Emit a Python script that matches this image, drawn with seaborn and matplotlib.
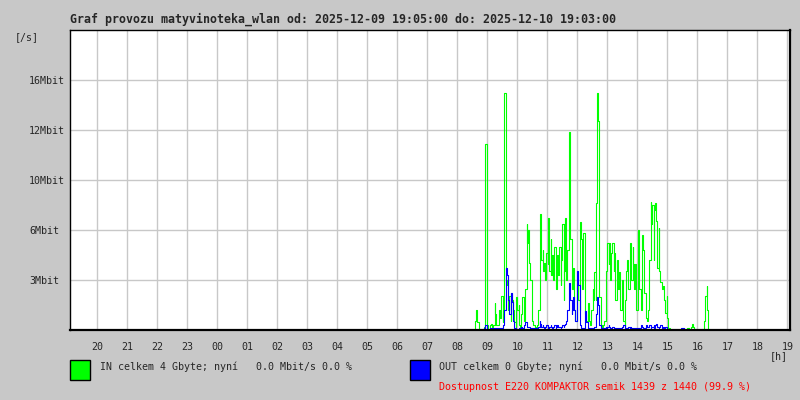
import matplotlib
matplotlib.use('Agg')
import pandas as pd
import matplotlib.pyplot as plt
import seaborn as sns

# časový rozsah grafu
period_start = '2025-12-09 19:05'
period_end = '2025-12-10 19:05'
# první vzorek dat a krok (2 min)
sample_start = '2025-12-10 08:33'
sample_step = '2min'

# IN provoz [Mbit/s]
in_mbit = [
    0, 0, 0.6, 1.3, 0.5, 0, 0, 0, 0, 0,
    0, 0.2, 11.9, 11.5, 0.3, 0, 0, 0.3, 0.4, 0.2,
    0.3, 1.7, 1.0, 0.3, 0.3, 0.3, 1.3, 0.8, 2.2, 0.5,
    1.3, 15.2, 14.7, 2.9, 3.2, 1.3, 2.2, 0.6, 2.4, 1.9,
    1.3, 0.5, 0.2, 2.1, 1.3, 1.6, 0.3, 0.2, 1.0, 2.1,
    1.3, 0.6, 2.6, 6.8, 5.6, 6.4, 4.3, 3.2, 1.3, 0.6,
    0.3, 0.2, 0.1, 0.2, 0.3, 1.3, 3.2, 7.4, 4.5, 5.1,
    3.8, 4.3, 3.2, 4.9, 4.2, 7.2, 3.8, 5.8, 3.5, 4.8,
    3.2, 5.3, 4.2, 2.6, 4.8, 3.5, 5.3, 2.9, 4.5, 6.8,
    1.9, 3.8, 7.2, 3.2, 5.1, 12.2, 12.7, 5.8, 4.0, 2.6,
    4.0, 1.3, 0.6, 1.6, 3.0, 1.9, 1.3, 6.9, 5.8, 2.6,
    6.2, 2.6, 1.0, 0.6, 1.6, 1.7, 0.6, 0.3, 1.3, 2.6,
    1.9, 3.7, 1.9, 8.1, 15.2, 13.4, 2.1, 1.3, 0.3, 0.2,
    0.3, 0.6, 1.3, 3.8, 5.6, 4.2, 5.6, 3.2, 4.9, 5.6,
    3.8, 4.9, 1.9, 3.7, 4.5, 2.6, 3.7, 1.3, 2.4, 3.2,
    0.6, 0.2, 1.9, 3.8, 4.5, 2.6, 3.8, 5.6, 3.2, 5.3,
    4.2, 2.6, 4.2, 1.3, 3.2, 6.4, 2.6, 2.1, 1.3, 6.1,
    5.1, 2.4, 1.3, 0.8, 0.6, 1.3, 4.5, 8.2, 6.8, 8.0,
    4.5, 7.7, 8.1, 7.0, 4.0, 6.5, 3.8, 3.1, 3.0, 2.6,
    2.8, 1.9, 1.1, 2.2, 0.8, 0.1, 0, 0, 0, 0,
    0, 0, 0, 0, 0, 0, 0, 0, 0, 0,
    0, 0, 0, 0, 0.1, 0.1, 0, 0, 0.2, 0.4,
    0.2, 0, 0, 0, 0, 0, 0, 0, 0, 0,
    0, 0.6, 2.2, 2.8, 1.3, 0, 0, 0, 0, 0,
]

# OUT provoz [Mbit/s]
out_mbit = [
    0, 0, 0, 0, 0, 0, 0, 0, 0, 0,
    0, 0.1, 0.3, 0.2, 0, 0, 0, 0.1, 0.1, 0.1,
    0.1, 0.1, 0.1, 0.1, 0.1, 0.1, 0.1, 0.1, 0.1, 0.2,
    0.3, 1.3, 2.6, 4.0, 3.5, 1.9, 1.0, 2.2, 2.4, 1.8,
    0.6, 0.1, 0, 0, 0, 0, 0.1, 0.1, 0.2, 0.1,
    0.2, 0.3, 0.5, 0.3, 0.2, 0.2, 0.2, 0.1, 0.1, 0.1,
    0.1, 0.1, 0.1, 0.1, 0.1, 0.2, 0.6, 0.4, 0.2, 0.3,
    0.2, 0.1, 0.2, 0.3, 0.2, 0.1, 0.2, 0.3, 0.2, 0.1,
    0.2, 0.3, 0.1, 0.2, 0.3, 0.2, 0.2, 0.1, 0.2, 0.3,
    0.2, 0.3, 0.4, 0.6, 1.3, 2.2, 3.0, 1.9, 1.0, 1.3,
    2.1, 1.3, 0.6, 2.6, 3.8, 2.9, 0.6, 0.3, 0.1, 0.1,
    0.1, 0.3, 1.2, 0.5, 0.1, 0.1, 0.1, 0.1, 0.1, 0.1,
    0.1, 0.2, 0.3, 1.0, 2.1, 1.6, 0.3, 0.1, 0.1, 0.1,
    0.1, 0.1, 0.2, 0.1, 0.2, 0.3, 0.2, 0.1, 0.1, 0.2,
    0.1, 0.1, 0.1, 0.1, 0.1, 0.1, 0.1, 0.1, 0.1, 0.2,
    0.3, 0.1, 0.1, 0.1, 0.1, 0.2, 0.1, 0.2, 0.1, 0.1,
    0.1, 0.1, 0.1, 0.1, 0.1, 0.1, 0.1, 0.2, 0.3, 0.2,
    0.1, 0.1, 0.2, 0.3, 0.2, 0.2, 0.3, 0.1, 0.2, 0.2,
    0.3, 0.1, 0.3, 0.4, 0.2, 0.1, 0.2, 0.3, 0.2, 0.1,
    0.2, 0.1, 0.2, 0.1, 0, 0, 0, 0, 0, 0,
    0, 0, 0, 0, 0, 0, 0, 0, 0.1, 0.1,
    0.1, 0, 0, 0, 0, 0, 0, 0, 0, 0,
    0, 0, 0, 0, 0, 0, 0, 0, 0, 0,
    0, 0, 0, 0, 0, 0, 0, 0, 0, 0,
]

# osa y: mřížka po 3.2 Mbit, popisky jako v originálu
y_ticks = [3.2, 6.4, 9.6, 12.8, 16.0]
y_labels = ['3Mbit', '6Mbit', '10Mbit', '12Mbit', '16Mbit']
y_max = 19.2
x_labels = ['20', '21', '22', '23', '00', '01', '02', '03', '04', '05', '06', '07',
            '08', '09', '10', '11', '12', '13', '14', '15', '16', '17', '18', '19']

title = 'Graf provozu matyvinoteka_wlan od: 2025-12-09 19:05:00 do: 2025-12-10 19:03:00'
in_text = 'IN celkem 4 Gbyte; nyní   0.0 Mbit/s 0.0 %'
out_text = 'OUT celkem 0 Gbyte; nyní   0.0 Mbit/s 0.0 %'
avail_text = 'Dostupnost E220 KOMPAKTOR semik 1439 z 1440 (99.9 %)'

bg = '#c8c8c8'
sns.set_style('white')
plt.rcParams['font.family'] = ['DejaVu Sans Mono']

times = pd.date_range(sample_start, periods=len(in_mbit), freq=sample_step)
df = pd.DataFrame({'time': times, 'in': in_mbit, 'out': out_mbit})

fig = plt.figure(figsize=(8, 4), dpi=100, facecolor=bg)
ax = fig.add_axes([70 / 800, 70 / 400, 720 / 800, 300 / 400])
ax.set_facecolor('white')

sns.lineplot(data=df, x='time', y='in', ax=ax, color='#00ff00', linewidth=0.8,
             drawstyle='steps-mid', zorder=3)
sns.lineplot(data=df, x='time', y='out', ax=ax, color='#0000ff', linewidth=0.8,
             drawstyle='steps-mid', zorder=4)

ax.set_xlim(pd.Timestamp(period_start), pd.Timestamp(period_end))
ax.set_ylim(0, y_max)
hours = pd.date_range('2025-12-09 20:00', periods=len(x_labels), freq='h')
ax.set_xticks(hours)
ax.set_xticklabels(x_labels)
ax.set_yticks(y_ticks)
ax.set_yticklabels(y_labels, ha='left')
ax.set_xlabel('')
ax.set_ylabel('')
ax.grid(True, color=bg, linewidth=1.0, zorder=0)
ax.set_axisbelow(True)
ax.tick_params(axis='x', length=0, pad=9, labelsize=7.2)
ax.tick_params(axis='y', length=0, pad=29.5, labelsize=7.2)
for side in ['top', 'left']:
    ax.spines[side].set_linewidth(1.0)
for side in ['bottom', 'right']:
    ax.spines[side].set_linewidth(1.6)
for s in ax.spines.values():
    s.set_color('black')
    s.set_zorder(5)

fig.text(70 / 800, 1 - 19 / 400, title, fontsize=8.4, fontweight='bold', va='center', ha='left')
fig.text(15 / 800, 1 - 37 / 400, '[/s]', fontsize=7.2, va='center', ha='left')
fig.text(770 / 800, 1 - 356 / 400, '[h]', fontsize=7.2, va='center', ha='left')

# legenda
for x0, col in [(70, '#00ff00'), (410, '#0000ff')]:
    fig.patches.append(plt.Rectangle((x0 / 800, 1 - 380 / 400), 20 / 800, 20 / 400,
                                     transform=fig.transFigure, facecolor=col,
                                     edgecolor='black', linewidth=1.0))
fig.text(100 / 800, 1 - 367 / 400, in_text, fontsize=7.2, va='center', ha='left')
fig.text(439 / 800, 1 - 367 / 400, out_text, fontsize=7.2, va='center', ha='left')
fig.text(439 / 800, 1 - 387 / 400, avail_text, fontsize=7.2, va='center', ha='left', color='#ff0000')

fig.savefig('out.png', dpi=100, facecolor=bg)
